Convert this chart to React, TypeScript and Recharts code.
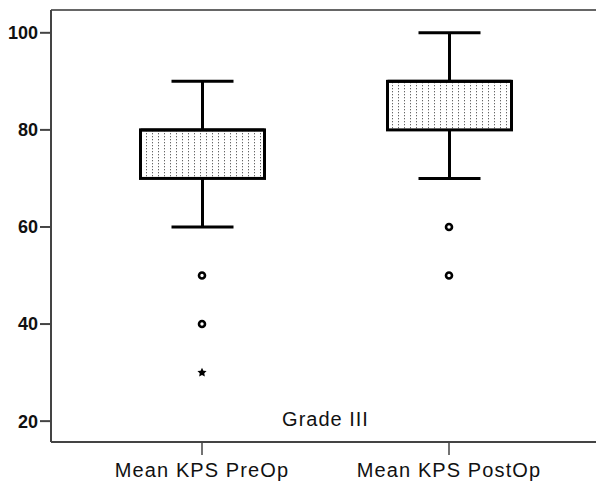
import React from 'react'
import { ComposedChart, Bar, Scatter, XAxis, YAxis, ReferenceLine } from 'recharts'

// Box plot summary per category (KPS scores)
const categories = ['Mean KPS PreOp', 'Mean KPS PostOp']
const whiskerLow = [60, 70]
const boxLow = [70, 80]
const medians = [80, 90]
const boxHigh = [80, 90]
const whiskerHigh = [90, 100]

// Outliers (circles) and extreme values (stars)
const outlierCategory = [
  'Mean KPS PreOp',
  'Mean KPS PreOp',
  'Mean KPS PreOp',
  'Mean KPS PostOp',
  'Mean KPS PostOp',
]
const outlierValues = [50, 40, 30, 60, 50]
const outlierKinds = ['circle', 'circle', 'star', 'circle', 'circle']

const yTicks = [20, 40, 60, 80, 100]
const yMin = 15.7
const yMax = 104.7

const FONT = '"Liberation Sans", Arial, sans-serif'
const AXIS = '#444'

const rows = categories.map((name, i) => ({
  name,
  whisker: [whiskerLow[i], whiskerHigh[i]],
  box: [boxLow[i], boxHigh[i]],
  low: boxLow[i],
  high: boxHigh[i],
  median: medians[i],
}))

const outliers = outlierValues.map((value, i) => ({
  name: outlierCategory[i],
  value,
  kind: outlierKinds[i],
}))

function WhiskerShape(props: any) {
  const { x, y, width, height } = props
  const top = Math.min(y, y + height)
  const bottom = Math.max(y, y + height)
  const cx = x + width / 2
  return (
    <g stroke="#000" strokeWidth={3}>
      <line x1={cx} x2={cx} y1={top} y2={bottom} />
      <line x1={x} x2={x + width} y1={top} y2={top} />
      <line x1={x} x2={x + width} y1={bottom} y2={bottom} />
    </g>
  )
}

function BoxShape(props: any) {
  const { x, y, width, height, payload } = props
  const top = Math.min(y, y + height)
  const h = Math.abs(height)
  const span = payload.high - payload.low
  const my = top + ((payload.high - payload.median) / span) * h
  return (
    <g>
      <rect
        x={x}
        y={top}
        width={width}
        height={h}
        fill="url(#dots)"
        stroke="#000"
        strokeWidth={3}
      />
      <line x1={x} x2={x + width} y1={my} y2={my} stroke="#000" strokeWidth={3} />
    </g>
  )
}

function OutlierShape(props: any) {
  const { cx, cy, payload } = props
  if (!Number.isFinite(cx) || !Number.isFinite(cy)) return <g />
  if (payload.kind === 'star') {
    const pts: string[] = []
    for (let k = 0; k < 10; k++) {
      const r = k % 2 === 0 ? 4.8 : 2.4
      const a = -Math.PI / 2 + (k * Math.PI) / 5
      pts.push(`${cx + r * Math.cos(a)},${cy + r * Math.sin(a)}`)
    }
    return <polygon points={pts.join(' ')} fill="#000" />
  }
  return <circle cx={cx} cy={cy} r={3} fill="#fff" stroke="#000" strokeWidth={2.6} />
}

function CategoryTick(props: any) {
  const { x, y, payload } = props
  return (
    <text
      x={x}
      y={y}
      dy={14}
      textAnchor="middle"
      fontFamily={FONT}
      fontSize={20}
      letterSpacing={1.1}
      fill="#111"
    >
      {payload.value}
    </text>
  )
}

export default function App() {
  return (
    <div style={{ position: 'absolute', left: 0, top: 0, width: 596, height: 486, overflow: 'hidden', background: '#fff' }}>
      <ComposedChart
        width={600}
        height={486}
        data={rows}
        margin={{ top: 10, right: 0, bottom: 0, left: 0 }}
      >
        <defs>
          <pattern id="dots" width={6} height={3} patternUnits="userSpaceOnUse">
            <rect width={6} height={3} fill="#fff" />
            <rect x={2} y={1} width={1} height={1.3} fill="#666" />
          </pattern>
        </defs>
        <XAxis
          xAxisId="main"
          dataKey="name"
          type="category"
          allowDuplicatedCategory={false}
          padding={{ left: 27.5, right: 27.5 }}
          height={44}
          tickSize={13}
          tickMargin={8}
          axisLine={{ stroke: AXIS, strokeWidth: 2 }}
          tickLine={{ stroke: AXIS, strokeWidth: 1.5 }}
          tick={<CategoryTick />}
          interval={0}
        />
        <XAxis
          xAxisId="box"
          dataKey="name"
          type="category"
          allowDuplicatedCategory={false}
          padding={{ left: 27.5, right: 27.5 }}
          height={0}
          hide
        />
        <YAxis
          type="number"
          domain={[yMin, yMax]}
          ticks={yTicks}
          width={51}
          tickSize={11}
          tickMargin={2}
          axisLine={{ stroke: AXIS, strokeWidth: 2 }}
          tickLine={{ stroke: AXIS, strokeWidth: 2 }}
          tick={{ fontFamily: FONT, fontSize: 18, fontWeight: 'bold', fill: '#111' }}
        />
        <ReferenceLine xAxisId="main" y={yMax} stroke="#666" strokeWidth={2} />
        <Bar
          xAxisId="main"
          dataKey="whisker"
          barSize={62}
          shape={<WhiskerShape />}
          isAnimationActive={false}
        />
        <Bar
          xAxisId="box"
          dataKey="box"
          barSize={124}
          shape={<BoxShape />}
          isAnimationActive={false}
        />
        <Scatter
          xAxisId="main"
          data={outliers}
          dataKey="value"
          shape={<OutlierShape />}
          isAnimationActive={false}
        />
      </ComposedChart>
      <div
        style={{
          position: 'absolute',
          left: 51,
          width: 549,
          top: 408,
          textAlign: 'center',
          fontFamily: FONT,
          fontSize: 20,
          letterSpacing: 1,
          color: '#111',
          lineHeight: '22px',
        }}
      >
        Grade III
      </div>
    </div>
  )
}
